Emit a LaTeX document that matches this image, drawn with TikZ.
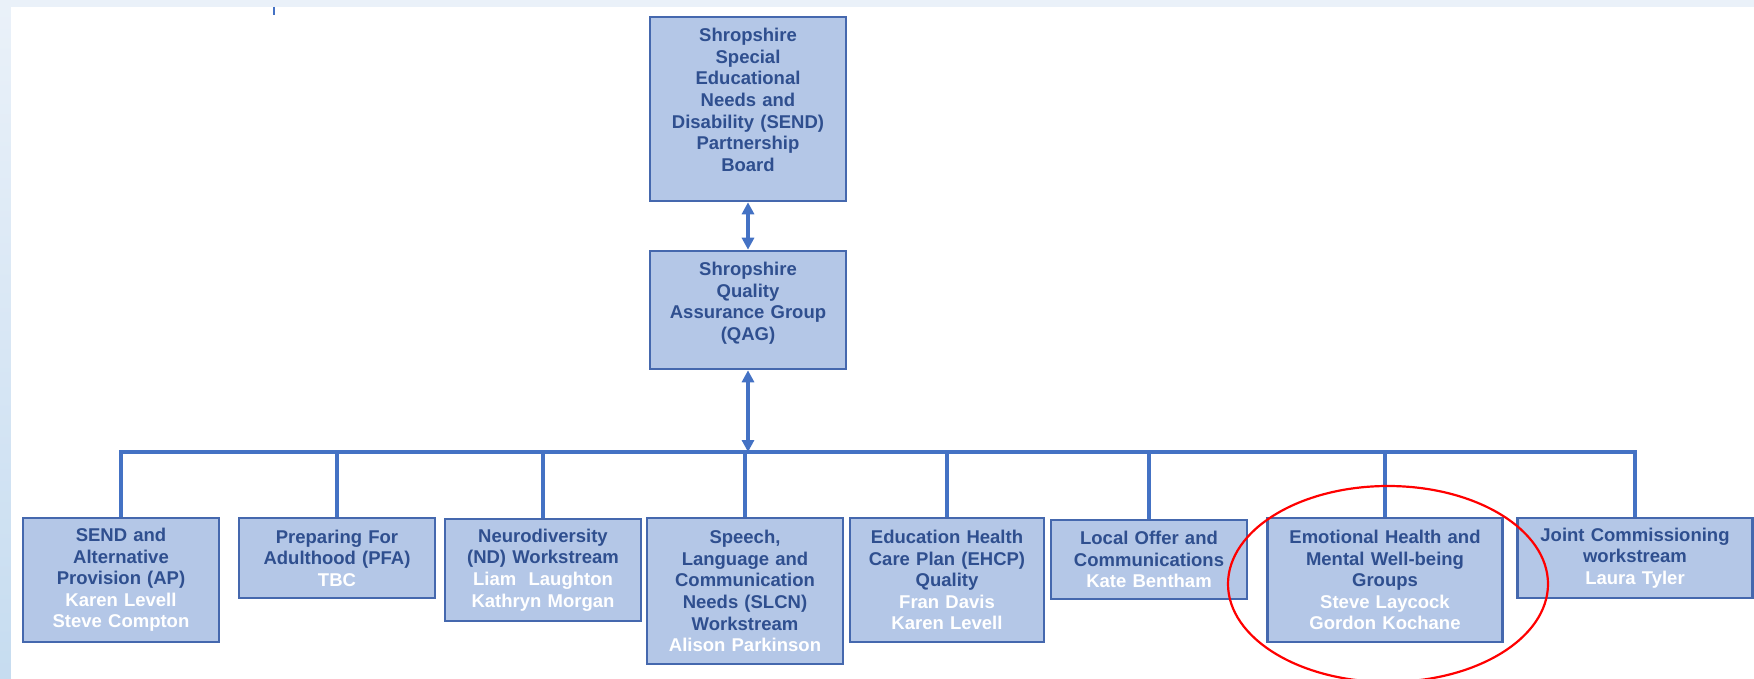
\documentclass[tikz,border=0pt]{standalone}
\usepackage{fontspec}
\setmainfont{Liberation Sans}
\usetikzlibrary{arrows.meta}
\definecolor{boxfill}{HTML}{B4C7E7}
\definecolor{boxline}{HTML}{4568AE}
\definecolor{linkblue}{HTML}{4472C4}
\definecolor{titleblue}{HTML}{2F4F8F}
\definecolor{bgtop}{HTML}{EAF1F9}
\definecolor{bgbot}{HTML}{C6DCF0}
\newcommand{\who}[1]{\textcolor{white}{#1}}
\begin{document}
\begin{tikzpicture}[
      x=1pt, y=-1pt,
      box/.style={draw=boxline, fill=boxfill, line width=2.6pt, align=center, inner sep=0pt,
                  text=titleblue, font=\bfseries\fontsize{18.5}{21.6}\selectfont},
      link/.style={draw=linkblue, line width=3.2pt},
      both/.style={link, arrows={Triangle[length=12pt,width=12pt]-Triangle[length=12pt,width=12pt]}},
      ring/.style={draw=red, line width=2.2pt}
    ]
    \useasboundingbox (0,0) rectangle (1754,679);
    \fill[top color=bgtop, bottom color=bgbot] (0,0) rectangle (1754,679);
    \fill[white] (11,7) rectangle (1754,679);
    \draw[link, line width=2pt] (274,7) -- (274,15);

    \node[box, text width=196pt, minimum height=184pt, text depth=148pt] (board) at (748,109)
      {Shropshire\\ Special\\ Educational\\ Needs and\\ Disability (SEND)\\ Partnership\\ Board};
    \node[box, text width=196pt, minimum height=118pt, text depth=82pt] (qag) at (748,310)
      {Shropshire\\ Quality\\ Assurance Group\\ (QAG)};
    \coordinate (bus) at (748,452);

    \node[box, text width=196pt, minimum height=124pt] (ap)    at (121,580)
      {SEND and\\ Alternative\\ Provision (AP)\\ \who{Karen Levell}\\ \who{Steve Compton}};
    \node[box, text width=196pt, minimum height=80pt]  (pfa)   at (337,558)
      {Preparing For\\ Adulthood (PFA)\\ \who{TBC}};
    \node[box, text width=196pt, minimum height=102pt] (nd)    at (543,570)
      {Neurodiversity\\ (ND) Workstream\\ \who{Liam\ \ Laughton}\\ \who{Kathryn Morgan}};
    \node[box, text width=196pt, minimum height=146pt] (slcn)  at (745,591)
      {Speech,\\ Language and\\ Communication\\ Needs (SLCN)\\ Workstream\\ \who{Alison Parkinson}};
    \node[box, text width=194pt, minimum height=124pt] (ehcp)  at (947,580)
      {Education Health\\ Care Plan (EHCP)\\ Quality\\ \who{Fran Davis}\\ \who{Karen Levell}};
    \node[box, text width=196pt, minimum height=79pt]  (offer) at (1149,559.5)
      {Local Offer and\\ Communications\\ \who{Kate Bentham}};
    \node[box, text width=235pt, minimum height=124pt] (ehwb)  at (1385,580)
      {Emotional Health and\\ Mental Well-being\\ Groups\\ \who{Steve Laycock}\\ \who{Gordon Kochane}};
    \node[box, text width=235pt, minimum height=80pt]  (jcw)   at (1635,558)
      {Joint Commissioning\\ workstream\\ \who{Laura Tyler}};

    \draw[both] (board) -- (qag);
    \draw[link] (ap.north) -- (ap.north |- bus) -- (jcw.north |- bus) -- (jcw.north);
    \foreach \grp in {pfa,nd,slcn,ehcp,offer,ehwb}
      \draw[link] (\grp.north) -- (\grp.north |- bus);
    \draw[both] (qag) -- (bus);

    \draw[ring] (1388,584) ellipse [x radius=160pt, y radius=98pt];
  \end{tikzpicture}
\end{document}
